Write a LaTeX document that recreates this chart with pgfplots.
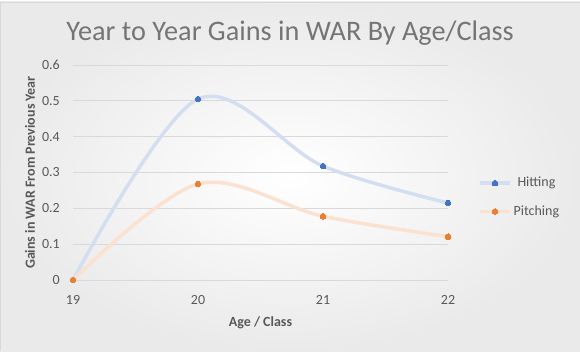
\documentclass[border=0pt]{standalone}
\usepackage{pgfplots}
\pgfplotsset{compat=1.18}
\usepackage{fontspec}
\setmainfont{Carlito}
\definecolor{hitline}{HTML}{D3DEF1}
\definecolor{hitmark}{HTML}{4472C4}
\definecolor{pitline}{HTML}{FBE1D0}
\definecolor{pitmark}{HTML}{ED7D31}
\definecolor{txt}{HTML}{595959}
\definecolor{ttl}{HTML}{757575}
\definecolor{gridc}{HTML}{D9D9D9}
\definecolor{edge}{HTML}{EAEAEA}
\begin{document}
\begin{tikzpicture}
% plot area lower-left is (0,0); 1px = 0.75pt
\useasboundingbox (-54.75pt,-53.25pt) rectangle (380.25pt,210pt);
\shade[inner color=white, outer color=edge] (-54.75pt,-53.25pt) rectangle (380.25pt,208.5pt);
\draw[gridc, line width=0.75pt] (-54.45pt,-53.25pt) -- (-54.45pt,208.2pt) -- (380.25pt,208.2pt);
\begin{axis}[
  at={(0pt,0pt)}, anchor=south west,
  scale only axis, width=281.25pt, height=161.25pt,
  xmin=19, xmax=22, ymin=0, ymax=0.6,
  clip=false,
  axis line style={draw=none},
  xtick={19,20,21,22},
  ytick={0,0.1,0.2,0.3,0.4,0.5,0.6},
  yticklabels={0,0.1,0.2,0.3,0.4,0.5,0.6},
  ymajorgrids, grid style={draw=gridc, line width=0.75pt},
  major tick length=0pt,
  tick style={draw=none},
  /pgf/number format/assume math mode=true,
  ticklabel style={font=\fontsize{10.5}{12}\selectfont, text=txt},
  yticklabel style={anchor=east, inner sep=0pt, xshift=-9.75pt},
  xticklabel style={anchor=base, inner sep=0pt, yshift=-18pt},
  xlabel={Age / Class},
  ylabel={Gains in WAR From Previous Year},
  every axis x label/.style={at={(axis description cs:0.5,-0.214)}, anchor=base,
    font=\bfseries\fontsize{10.5}{12}\selectfont, text=txt},
  every axis y label/.style={at={(axis description cs:-0.1147,0.5)}, anchor=center, rotate=90,
    font=\bfseries\fontsize{10.5}{12}\selectfont, text=txt},
  title={Year to Year Gains in WAR By Age/Class},
  every axis title/.style={font=\fontsize{21.2}{24}\selectfont, text=ttl,
    at={(axis description cs:0.5787,1.113)}, anchor=base},
  legend image code/.code={
    \draw[#1, mark=none] (0pt,0pt) -- (22.5pt,0pt);
    \draw[#1, draw=none] plot coordinates {(11.25pt,0pt)};
  },
  legend style={draw=none, fill=none, at={(axis description cs:1.080,0.479)}, anchor=north west,
    font=\fontsize{10.5}{12}\selectfont, text=txt, inner sep=0pt, row sep=12.5pt,
    nodes={inner sep=0pt},
    /tikz/every odd column/.append style={column sep=1.5pt}},
]
\addplot[hitline, line width=2.6pt, smooth, tension=0.55, mark=*, mark size=2.1pt,
  mark options={fill=hitmark, draw=hitmark, line width=0pt}]
  coordinates {(19,0) (20,0.505) (21,0.318) (22,0.215)};
\addlegendentry{Hitting}
\addplot[pitline, line width=2.6pt, smooth, tension=0.55, mark=*, mark size=2.1pt,
  mark options={fill=pitmark, draw=pitmark, line width=0pt}]
  coordinates {(19,0) (20,0.268) (21,0.178) (22,0.121)};
\addlegendentry{Pitching}
\end{axis}
\end{tikzpicture}
\end{document}
